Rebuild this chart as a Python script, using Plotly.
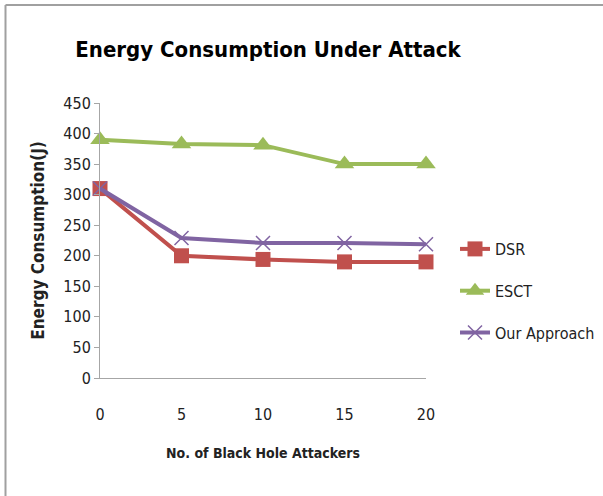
import plotly.graph_objects as go

# Number of black hole attackers
attackers = [0, 5, 10, 15, 20]

# Energy consumption (J) per routing scheme
dsr = [310, 200, 194, 190, 190]
esct = [390, 383, 381, 350, 350]
our_approach = [310, 229, 221, 221, 219]

y_ticks = [0, 50, 100, 150, 200, 250, 300, 350, 400, 450]

W, H = 603, 496
L, R, T, B = 100, 177, 103, 118
pw, ph = W - L - R, H - T - B

font_body = "DejaVu Sans Condensed, Roboto Condensed, Roboto, sans-serif"

fig = go.Figure()

series = [
    ("DSR", dsr, "#C0504D", dict(symbol="square", size=15)),
    ("ESCT", esct, "#9BBB59", dict(symbol="triangle-up", size=17)),
    ("Our Approach", our_approach, "#8064A2",
     dict(symbol="x-thin", size=14, line=dict(width=1.5, color="#8064A2"))),
]
for i, (name, vals, color, mk) in enumerate(series):
    fig.add_trace(go.Scatter(
        x=attackers, y=vals, name=name, mode="lines+markers",
        line=dict(color=color, width=4),
        marker=dict(color=color, **mk),
        cliponaxis=False, legendgroup=name,
    ))

fig.update_layout(
    width=W, height=H,
    margin=dict(l=L, r=R, t=T, b=B, autoexpand=False),
    paper_bgcolor="white", plot_bgcolor="white",
    font=dict(family=font_body, size=16, color="#222222"),
    title=dict(
        text="<b>Energy Consumption Under Attack</b>",
        x=268 / W, xanchor="center", y=1 - 49 / H, yanchor="middle",
        font=dict(size=22, color="black", family=font_body),
    ),
    showlegend=True,
    legend=dict(
        x=(455 - L) / pw, xanchor="left",
        y=(H - B - 232) / ph, yanchor="top",
        font=dict(size=16, color="#222222"),
        traceorder="grouped", tracegroupgap=18,
        itemwidth=30,
    ),
    xaxis=dict(
        range=[0, 20], tickvals=attackers, ticktext=[str(a) for a in attackers],
        showgrid=False, zeroline=False,
        showline=True, linecolor="#A6A6A6", linewidth=1,
        ticks="", ticklabelstandoff=22,
        title=dict(text="<b>No. of Black Hole Attackers</b>",
                   font=dict(size=14, color="#222222"), standoff=24),
        fixedrange=True,
    ),
    yaxis=dict(
        range=[0, 450], tickvals=y_ticks,
        showgrid=False, zeroline=False,
        showline=True, linecolor="#A6A6A6", linewidth=1,
        ticks="outside", ticklen=5, tickcolor="#A6A6A6",
        title=dict(text="<b>Energy Consumption(J)</b>",
                   font=dict(size=17, color="#222222"), standoff=14),
        fixedrange=True,
    ),
)

# Outer frame: left and top edges
fig.add_shape(type="line", xref="paper", yref="paper",
              x0=(5.5 - L) / pw, x1=(5.5 - L) / pw,
              y0=(H - B - 496) / ph, y1=(H - B - 5) / ph,
              line=dict(color="#A0A0A0", width=2))
fig.add_shape(type="line", xref="paper", yref="paper",
              x0=(5.5 - L) / pw, x1=(603 - L) / pw,
              y0=(H - B - 5) / ph, y1=(H - B - 5) / ph,
              line=dict(color="#A0A0A0", width=2))

fig.write_html("out.html")
